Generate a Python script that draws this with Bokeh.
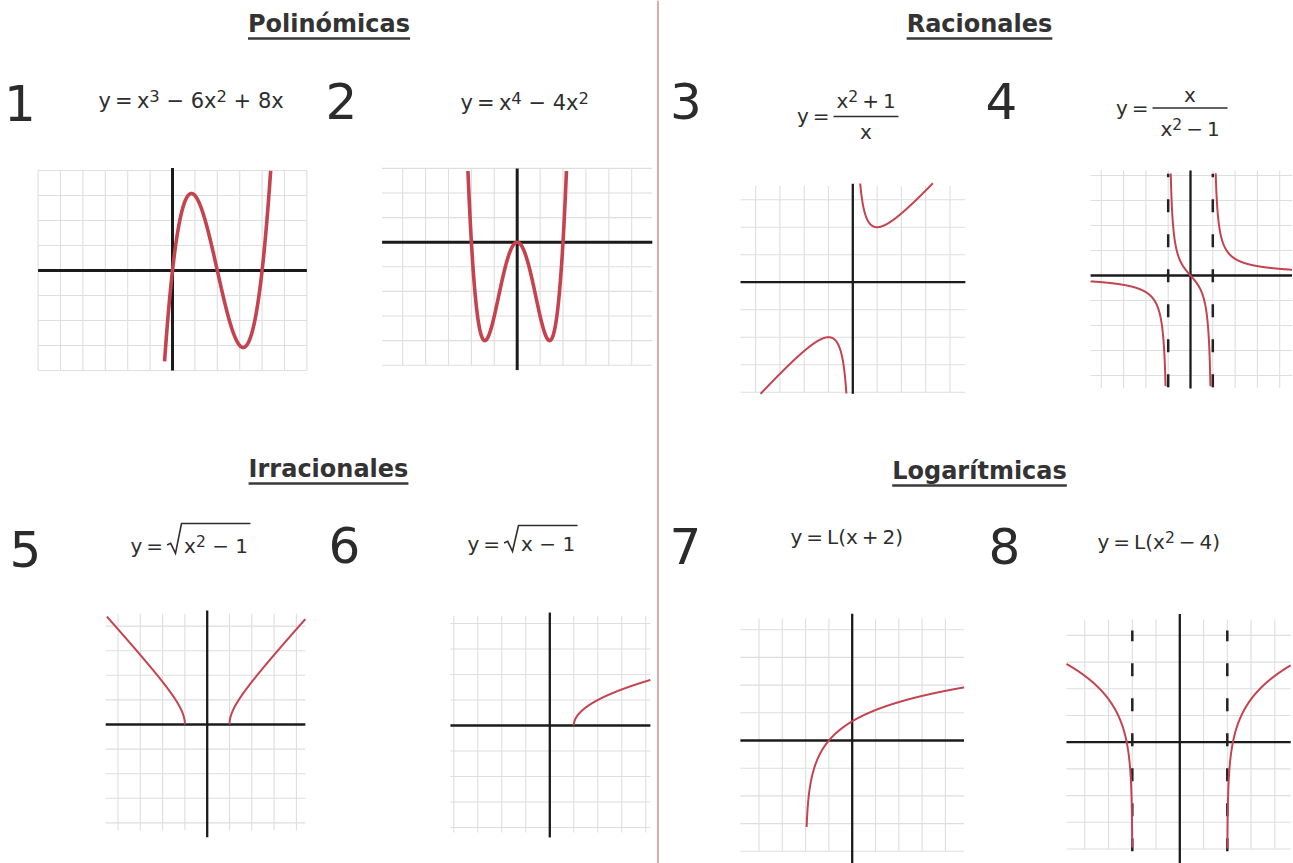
import math
import numpy as np
from bokeh.plotting import figure
from bokeh.models import Range1d
from bokeh.core.properties import value
from bokeh.embed import file_html
from bokeh.resources import INLINE

W, H = 1293, 863
FONT = "DejaVu Sans"
INK = "#2e2e2e"
CURVE = "#c4434f"
GRID = "#dedede"
NBSP = "\u00a0"
THIN = "\u2009"
MINUS = "\u2212"

# ---------------------------------------------------------------- content
SECTION_TITLES = ["Polinómicas", "Racionales", "Irracionales", "Logarítmicas"]
PANEL_NUMBERS = ["1", "2", "3", "4", "5", "6", "7", "8"]


def f1(x):
    return x**3 - 6 * x**2 + 8 * x


def f2(x):
    return x**4 - 4 * x**2


def f3(x):
    return (x**2 + 1) / x


def f4(x):
    return x / (x**2 - 1)


def f5(x):
    return np.sqrt(x**2 - 1)


def f6(x):
    return np.sqrt(x - 1)


def f7(x):
    return np.log(x + 2)


def f8(x):
    return np.log(x**2 - 4)


FUNCTIONS = [f1, f2, f3, f4, f5, f6, f7, f8]

# x-intervals of each drawn branch (split at asymptotes / domain edges)
BRANCHES = [
    [(-1.0, 5.0)],
    [(-3.0, 3.0)],
    [(-4.7, 0.0), (0.0, 4.7)],
    [(-4.48, -1.0), (-1.0, 1.0), (1.0, 4.55)],
    [(-4.5, -1.0), (1.0, 4.4)],
    [(1.0, 4.19)],
    [(-1.956, 4.8)],
    [(-4.77, -2.0), (2.0, 4.67)],
]
# visible vertical extent of each curve
CURVE_Y = [(-3.65, 4.0), (-5.0, 2.9), (-4.06, 3.6), (-4.45, 4.1),
           (-5.0, 5.0), (-5.0, 5.0), (-5.0, 5.0), (-4.06, 5.0)]
# vertical asymptotes drawn dashed, with their drawn extent
ASYMPTOTES = {4: [-1.0, 1.0], 8: [-2.0, 2.0]}
ASYMPTOTE_Y = {4: (-4.47, 4.07), 8: (-4.08, 4.18)}

SUP = "s"
BASE = "b"
FORMULAS = [
    {"kind": "plain", "tokens": [(f"y{THIN}={THIN}x", BASE), ("3", SUP), (f"{NBSP}{MINUS} 6x", BASE),
                                  ("2", SUP), (f"{NBSP}+ 8x", BASE)]},
    {"kind": "plain", "tokens": [(f"y{THIN}={THIN}x", BASE), ("4", SUP), (f"{NBSP}{MINUS} 4x", BASE),
                                  ("2", SUP)]},
    {"kind": "fraction", "num": [("x", BASE), ("2", SUP), (f"{THIN}+{THIN}1", BASE)],
     "den": [("x", BASE)]},
    {"kind": "fraction", "num": [("x", BASE)],
     "den": [("x", BASE), ("2", SUP), (f"{THIN}{MINUS}{THIN}1", BASE)]},
    {"kind": "radical", "radicand": [("x", BASE), ("2", SUP), (f"{NBSP}{MINUS} 1", BASE)]},
    {"kind": "radical", "radicand": [(f"x {MINUS} 1", BASE)]},
    {"kind": "plain", "tokens": [(f"y{THIN}={THIN}L(x{THIN}+{THIN}2)", BASE)]},
    {"kind": "plain", "tokens": [(f"y{THIN}={THIN}L(x", BASE), ("2", SUP),
                                  (f"{THIN}{MINUS}{THIN}4)", BASE)]},
]

# ---------------------------------------------------------------- layout
# page coordinates are pixels from the top-left corner
TITLE_POS = [(328.5, 32), (979, 32), (328, 477), (979, 479)]
NUMBER_POS = [(19.5, 120), (341, 118), (685.5, 118), (1001, 118),
              (25, 566), (344, 562), (685, 563), (1004, 563)]
FORMULA_POS = [
    {"left": 98, "base": 108, "size": 21},
    {"left": 460, "base": 110, "size": 21},
    {"bar": (833, 898), "bar_y": 116, "num": 107, "den": 138, "lhs": (829, 122), "size": 20},
    {"bar": (1152, 1227), "bar_y": 107.5, "num": 101, "den": 135, "lhs": (1148, 114), "size": 20},
    {"left": 130, "base": 552, "size": 20, "over": 1.45},
    {"left": 467, "base": 550, "size": 20, "over": 1.25},
    {"left": 790, "base": 543, "size": 20},
    {"left": 1097, "base": 548, "size": 20},
]
# each small graph: origin on the page, pixels per unit, axis extent, grid extent
PANELS = [
    dict(origin=(172, 270), unit=(22.4, 25.0), ax=(-6.0, 6.0), ay=(-4.0, 4.1), gy=(-4.0, 4.0), heavy=True),
    dict(origin=(516.7, 241.7), unit=(22.9, 24.6), ax=(-5.9, 5.9), ay=(-5.2, 3.0), gy=(-5.0, 3.0), heavy=True),
    dict(origin=(852.3, 281.7), unit=(24.3, 27.5), ax=(-4.62, 4.63), ay=(-4.06, 3.58), gy=(-4.0, 3.5), heavy=False),
    dict(origin=(1190, 275), unit=(22.3, 25.0), ax=(-4.48, 4.55), ay=(-4.52, 4.2), gy=(-4.5, 4.2), heavy=False),
    dict(origin=(206.7, 724), unit=(22.3, 24.6), ax=(-4.55, 4.4), ay=(-4.58, 4.63), gy=(-4.3, 4.5), heavy=False),
    dict(origin=(549.3, 725), unit=(24.0, 25.5), ax=(-4.14, 4.19), ay=(-4.39, 4.43), gy=(-4.2, 4.3), heavy=False),
    dict(origin=(851.7, 740), unit=(23.3, 27.7), ax=(-4.8, 4.8), ay=(-4.8, 4.58), gy=(-4.0, 4.4), heavy=False),
    dict(origin=(1179.3, 741.7), unit=(23.75, 26.7), ax=(-4.77, 4.67), ay=(-4.8, 4.8), gy=(-4.0, 4.6), heavy=False),
]
DIVIDER_X = 657.5

# DejaVu Sans advance widths (em) used to set formulas piece by piece
ADV = {" ": 0.318, NBSP: 0.318, THIN: 0.2, "y": 0.592, "x": 0.592, "=": 0.838, "+": 0.838,
       MINUS: 0.838, "L": 0.557, "(": 0.390, ")": 0.390}
for d in "0123456789":
    ADV[d] = 0.636
BOLD_ADV = {"P": 0.733, "o": 0.687, "l": 0.343, "i": 0.343, "n": 0.712, "ó": 0.687,
            "m": 1.042, "c": 0.593, "a": 0.675, "s": 0.595, "R": 0.770, "e": 0.678,
            "I": 0.372, "r": 0.493, "L": 0.637, "g": 0.716, "í": 0.343, "t": 0.478}
SUP_SCALE = 0.78
SUP_RAISE = 0.33
# the svg text anchor sits at the middle of the em box, this far above the baseline
EM_MIDDLE = 0.346

# ---------------------------------------------------------------- figure
p = figure(width=W, height=H, x_range=Range1d(0, W), y_range=Range1d(H, 0),
           toolbar_location=None, output_backend="svg", min_border=0,
           x_axis_location=None, y_axis_location=None, outline_line_color=None,
           background_fill_color="white", border_fill_color="white")
p.xgrid.visible = False
p.ygrid.visible = False

xr, yr = {}, {}
for i, pan in enumerate(PANELS, start=1):
    ox, oy = pan["origin"]
    ux, uy = pan["unit"]
    xr[f"p{i}x"] = Range1d(-ox / ux, (W - ox) / ux)
    yr[f"p{i}y"] = Range1d(-(H - oy) / uy, oy / uy)
p.extra_x_ranges = xr
p.extra_y_ranges = yr


def txt(x, base, s, size, align="left", bold=False, color=INK):
    p.text(x=[x], y=[base - EM_MIDDLE * size], text=[s], text_font=value(FONT),
           text_font_size=value(f"{size:.1f}px"),
           text_font_style="bold" if bold else "normal",
           text_align=align, text_baseline="alphabetic", text_color=color)


def tokens_width(tokens, size):
    w = 0.0
    for t, k in tokens:
        s = size * SUP_SCALE if k == SUP else size
        w += sum(ADV[c] for c in t) * s
    return w


def set_tokens(tokens, x, base, size):
    for t, k in tokens:
        s = size * SUP_SCALE if k == SUP else size
        y = base - SUP_RAISE * size if k == SUP else base
        txt(x, y, t, s)
        x += sum(ADV[c] for c in t) * s
    return x


def radical(x, base, size, width, over):
    top = base - over * size
    xs = [x, x + 0.18 * size, x + 0.42 * size, x + 0.72 * size, x + 0.85 * size + width + 0.12 * size]
    ys = [base - 0.38 * size, base - 0.46 * size, base + 0.04 * size, top, top]
    p.line(xs, ys, line_color=INK, line_width=1.6, line_join="miter")


# section titles with underline
for title, (cx, by) in zip(SECTION_TITLES, TITLE_POS):
    size = 24
    txt(cx, by, title, size, align="center", bold=True, color="#333333")
    w = sum(BOLD_ADV[c] for c in title) * size
    p.line([cx - w / 2, cx + w / 2], [by + 6, by + 6], line_color="#3a3a3a", line_width=2.5)

# panel numbers
for num, (cx, by) in zip(PANEL_NUMBERS, NUMBER_POS):
    txt(cx, by, num, 50, align="center", color="#2b2b2b")

# formulas
for form, pos in zip(FORMULAS, FORMULA_POS):
    size = pos["size"]
    if form["kind"] == "plain":
        set_tokens(form["tokens"], pos["left"], pos["base"], size)
    elif form["kind"] == "fraction":
        lx, ly = pos["lhs"]
        txt(lx, ly, f"y{THIN}=", size, align="right")
        b0, b1 = pos["bar"]
        cx = (b0 + b1) / 2
        p.line([b0, b1], [pos["bar_y"], pos["bar_y"]], line_color=INK, line_width=1.6)
        for part in ("num", "den"):
            w = tokens_width(form[part], size)
            set_tokens(form[part], cx - w / 2, pos[part], size)
    else:
        x = set_tokens([(f"y{THIN}={THIN}", BASE)], pos["left"], pos["base"], size)
        w = tokens_width(form["radicand"], size)
        radical(x, pos["base"], size, w, pos["over"])
        set_tokens(form["radicand"], x + 0.85 * size, pos["base"], size)

# divider between the two columns
p.line([DIVIDER_X, DIVIDER_X], [0, H], line_color="#d08e99", line_width=1.5)

# the eight graphs
for i, (pan, fn, branches, (ylo, yhi)) in enumerate(zip(PANELS, FUNCTIONS, BRANCHES, CURVE_Y), start=1):
    rx, ry = f"p{i}x", f"p{i}y"
    ax0, ax1 = pan["ax"]
    ay0, ay1 = pan["ay"]
    gy0, gy1 = pan["gy"]

    # squared paper
    gxs = np.arange(math.ceil(ax0), math.floor(ax1) + 1)
    gys = np.arange(math.ceil(gy0), math.floor(gy1) + 1)
    p.segment(x0=gxs, y0=[gy0] * len(gxs), x1=gxs, y1=[gy1] * len(gxs),
              line_color=GRID, line_width=1.1, x_range_name=rx, y_range_name=ry)
    p.segment(x0=[ax0] * len(gys), y0=gys, x1=[ax1] * len(gys), y1=gys,
              line_color=GRID, line_width=1.1, x_range_name=rx, y_range_name=ry)

    # coordinate axes
    aw = 3.0 if pan["heavy"] else 2.3
    p.segment(x0=[ax0, 0], y0=[0, ay0], x1=[ax1, 0], y1=[0, ay1],
              line_color="#1b1b1b", line_width=aw, x_range_name=rx, y_range_name=ry)

    # asymptotes
    if i in ASYMPTOTES:
        a = ASYMPTOTES[i]
        lo, hi = ASYMPTOTE_Y[i]
        p.segment(x0=a, y0=[lo] * len(a), x1=a, y1=[hi] * len(a),
                  line_color="#222222", line_width=2.5, line_dash="13 22",
                  x_range_name=rx, y_range_name=ry)

    # the function itself
    xs_all, ys_all = [], []
    for a, b in branches:
        xs = np.linspace(a, b, 4000)
        with np.errstate(all="ignore"):
            ys = fn(xs)
        bad = ~np.isfinite(ys) | (ys < ylo) | (ys > yhi)
        ys = np.where(bad, np.nan, ys)
        xs_all.append(xs)
        ys_all.append(ys)
        xs_all.append([np.nan])
        ys_all.append([np.nan])
    cx = np.concatenate(xs_all)
    cy = np.concatenate(ys_all)
    lw = 3.6 if pan["heavy"] else 2.0
    p.line(cx, cy, line_color=CURVE, line_width=lw, line_join="round",
           x_range_name=rx, y_range_name=ry)

open("out.html", "w").write(file_html(p, INLINE))
